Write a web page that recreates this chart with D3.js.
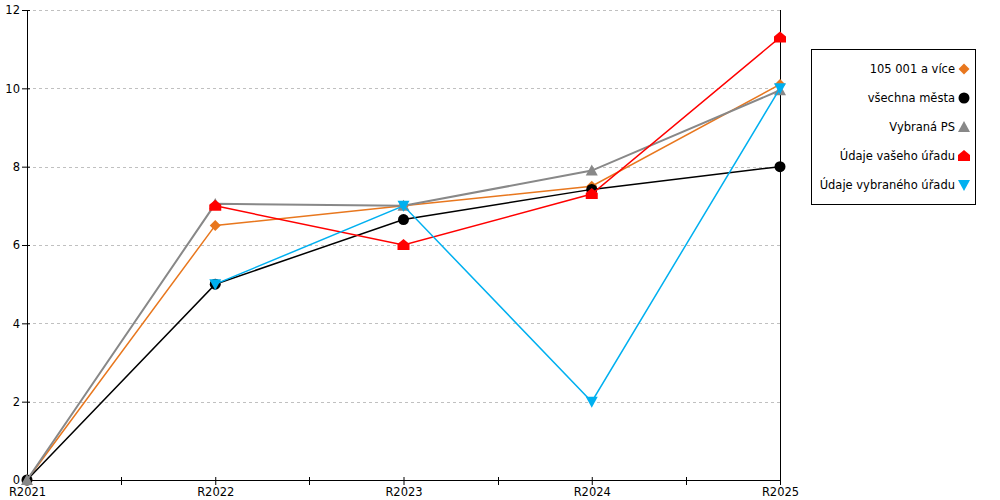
<!DOCTYPE html>
<html>
<head>
<meta charset="utf-8">
<script src="https://cdn.jsdelivr.net/npm/d3@7"></script>
<style>
  body { margin: 0; background: #fff; }
  text { font-family: "DejaVu Sans", Verdana, sans-serif; }
</style>
</head>
<body>
<div id="chart"></div>
<script>
// categories and series values (null = no value)
const years = ['R2021', 'R2022', 'R2023', 'R2024', 'R2025'];
const yTicks = [0, 2, 4, 6, 8, 10, 12];

const seriesNames = ['105 001 a více', 'všechna města', 'Vybraná PS', 'Údaje vašeho úřadu', 'Údaje vybraného úřadu'];
const bigCities = [0, 6.5, 7.0, 7.5, 10.1];
const allCities = [0, 5.0, 6.65, 7.42, 8.0];
const chosenPS = [0, 7.05, 7.0, 7.9, 9.95];
const yourOffice = [null, 7.0, 6.0, 7.3, 11.3];
const chosenOffice = [null, 5.0, 7.0, 2.0, 10.0];

const colors = ['#e8771e', '#000000', '#888888', '#ff0000', '#00b0f0'];
const shapes = ['diamond', 'circle', 'triangle', 'house', 'down'];
const widths = [1.5, 1.5, 2, 1.5, 1.5];

let width = 1000;
let height = 500;
let plot = { left: 27, right: 780, top: 10, bottom: 480 };

let svg = d3.select('#chart')
    .append('svg')
    .attr('width', width)
    .attr('height', height);

let x = d3.scalePoint().domain(years).range([plot.left, plot.right]);
let y = d3.scaleLinear().domain([0, 12]).range([plot.bottom, plot.top]);

// dashed grid lines
svg.append('g')
    .selectAll('line')
    .data(yTicks.filter(d => d > 0))
    .enter()
    .append('line')
    .attr('x1', plot.left)
    .attr('x2', plot.right)
    .attr('y1', d => Math.round(y(d)) + 0.5)
    .attr('y2', d => Math.round(y(d)) + 0.5)
    .style('stroke', '#c0c0c0')
    .style('stroke-dasharray', '3,3');

// right border line
svg.append('line')
    .attr('x1', plot.right + 0.5).attr('x2', plot.right + 0.5)
    .attr('y1', plot.top).attr('y2', plot.bottom)
    .style('stroke', '#000');

// Y axis
let yAxis = svg.append('g')
    .attr('transform', `translate(${plot.left},0)`)
    .call(d3.axisLeft(y).tickValues(yTicks).tickSize(5).tickSizeOuter(0));
yAxis.selectAll('.tick line').attr('x2', -5).attr('x1', 3);
yAxis.selectAll('text').attr('x', -7).style('font-size', '11.5px').style('fill', '#000');
yAxis.select('.domain').style('stroke', '#000');

// X axis
let xAxis = svg.append('g')
    .attr('transform', `translate(0,${plot.bottom})`)
    .call(d3.axisBottom(x).tickSize(5).tickSizeOuter(0));
xAxis.selectAll('.tick line').attr('y1', -3).attr('y2', 5);
xAxis.selectAll('text').attr('y', 8).style('font-size', '11.5px').style('fill', '#000');
xAxis.select('.domain').attr('d', `M${plot.left},0.5H${plot.right + 1}`).style('stroke', '#000');

// minor ticks between categories
let mids = years.slice(1).map((d, i) => Math.round((x(years[i]) + x(d)) / 2) + 0.5);
xAxis.selectAll('.minor')
    .data(mids)
    .enter()
    .append('line')
    .attr('x1', d => d).attr('x2', d => d)
    .attr('y1', -3).attr('y2', 5)
    .style('stroke', '#000');

// marker shapes
function markerPath(shape) {
    switch (shape) {
        case 'diamond': return 'M0,-5.5L5.5,0L0,5.5L-5.5,0Z';
        case 'circle': return d3.symbol().type(d3.symbolCircle).size(95)();
        case 'triangle': return 'M0,-6L6,5L-6,5Z';
        case 'house': return 'M0,-6L6,-1L6,5L-6,5L-6,-1Z';
        case 'down': return 'M-6,-5L6,-5L0,6Z';
    }
}

let allSeries = [bigCities, allCities, chosenPS, yourOffice, chosenOffice];

let line = d3.line()
    .defined(d => d.v !== null)
    .x(d => x(d.year))
    .y(d => y(d.v));

allSeries.forEach((vals, i) => {
    let pts = vals.map((v, j) => ({ year: years[j], v: v }));
    let g = svg.append('g').attr('class', 'series');
    g.append('path')
        .datum(pts)
        .attr('d', line)
        .style('fill', 'none')
        .style('stroke', colors[i])
        .style('stroke-width', widths[i]);
    g.selectAll('.pt')
        .data(pts.filter(d => d.v !== null))
        .enter()
        .append('path')
        .attr('class', 'pt')
        .attr('d', markerPath(shapes[i]))
        .attr('transform', d => `translate(${x(d.year)},${y(d.v)})`)
        .style('fill', colors[i]);
});

// legend
let legend = svg.append('g');
legend.append('rect')
    .attr('x', 811.5).attr('y', 49.5)
    .attr('width', 164).attr('height', 155)
    .style('fill', '#fff')
    .style('stroke', '#000');

let item = legend.selectAll('.item')
    .data(seriesNames)
    .enter()
    .append('g')
    .attr('transform', (d, i) => `translate(964,${69 + i * 29})`);

item.append('path')
    .attr('d', (d, i) => markerPath(shapes[i]))
    .style('fill', (d, i) => colors[i]);

item.append('text')
    .text(d => d)
    .attr('x', -9)
    .attr('dy', '0.35em')
    .attr('text-anchor', 'end')
    .style('font-size', '11.5px')
    .style('fill', '#000');
</script>
</body>
</html>
